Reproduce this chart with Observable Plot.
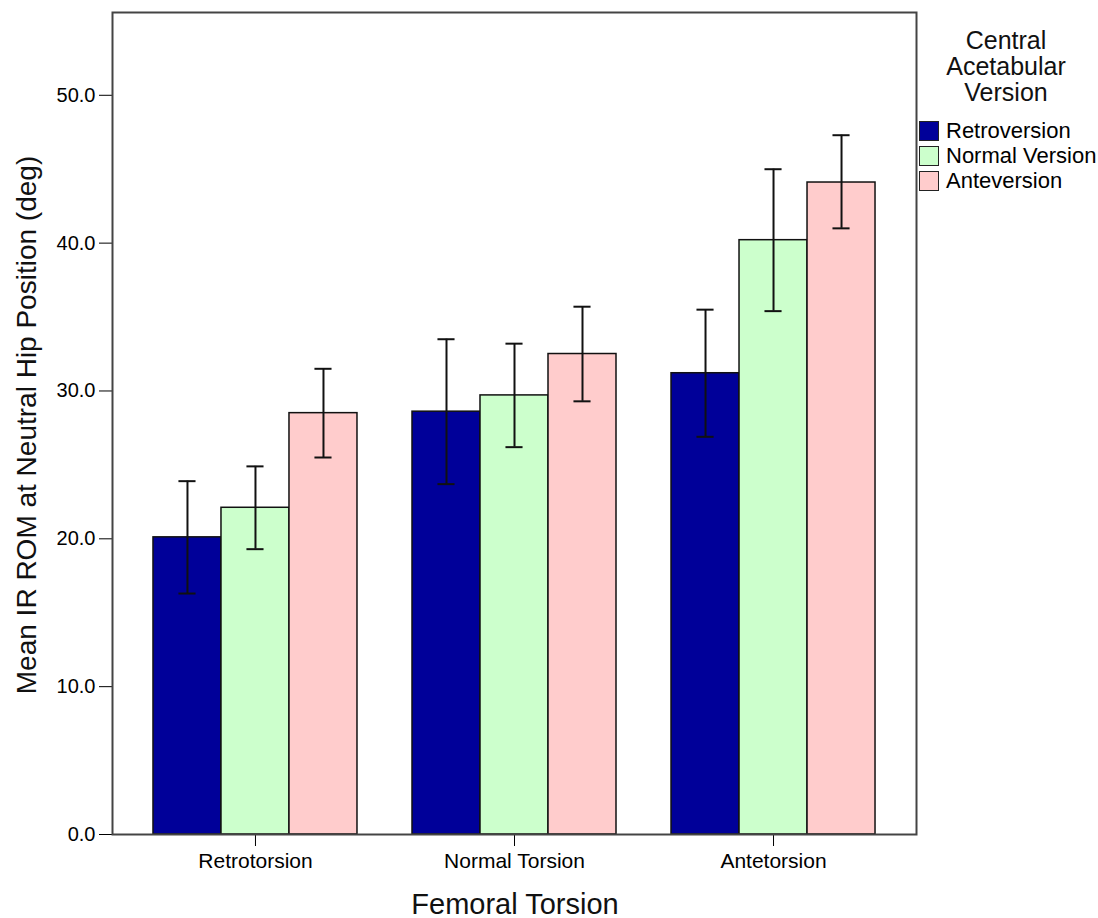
<!DOCTYPE html>
<html>
<head>
<meta charset="utf-8">
<script src="https://cdn.jsdelivr.net/npm/d3@7"></script>
<script src="https://cdn.jsdelivr.net/npm/@observablehq/plot@0.6"></script>
<style>
  body { margin: 0; background: #fff; font-family: "Liberation Sans", Arial, sans-serif; }
  #wrap { position: relative; width: 1098px; height: 918px; overflow: hidden; }
  #wrap svg { position: absolute; left: 0; top: 0; }
  g[aria-label^="y-axis"] text { font-size: 20px; fill: #000; }
  g[aria-label^="x-axis"] text { font-size: 21px; fill: #000; }
  .ytitle { position: absolute; left: 27px; top: 425px; transform: translate(-50%, -50%) rotate(-90deg);
            white-space: nowrap; font-size: 28px; color: #111; }
  .xtitle { position: absolute; left: 515px; top: 904px; transform: translate(-50%, -50%);
            white-space: nowrap; font-size: 29px; color: #111; }
  #legend { position: absolute; left: 916px; top: 27px; width: 182px; }
  #legend .ltitle { text-align: center; font-size: 25px; line-height: 26px; color: #111; width: 180px; margin-left: 0; }
  #legend .item { display: flex; align-items: center; height: 25px; margin-left: 3px; }
  #legend .sw { width: 18px; height: 18px; border: 1px solid #222; margin-right: 7px; }
  #legend .lab { font-size: 22px; color: #000; white-space: nowrap; }
</style>
</head>
<body>
<div id="wrap"></div>
<script>
// ---- data ----
const groups = ["Retrotorsion", "Normal Torsion", "Antetorsion"];
const versions = ["Retroversion", "Normal Version", "Anteversion"];
const colors = ["#000099", "#ccffcc", "#ffcccc"];

const retroversionMean = [20.1, 28.6, 31.2];
const retroversionLow  = [16.3, 23.7, 26.9];
const retroversionHigh = [23.9, 33.5, 35.5];

const normalVersionMean = [22.1, 29.7, 40.2];
const normalVersionLow  = [19.3, 26.2, 35.4];
const normalVersionHigh = [24.9, 33.2, 45.0];

const anteversionMean = [28.5, 32.5, 44.1];
const anteversionLow  = [25.5, 29.3, 41.0];
const anteversionHigh = [31.5, 35.7, 47.3];

const yTicks = [0, 10, 20, 30, 40, 50];

// ---- table built from the arrays ----
const means = [retroversionMean, normalVersionMean, anteversionMean];
const lows = [retroversionLow, normalVersionLow, anteversionLow];
const highs = [retroversionHigh, normalVersionHigh, anteversionHigh];

const groupPad = 0.2124;                 // gap between groups (fraction of step)
const bw = (1 - groupPad) / versions.length; // bar width in group units
const cap = 0.033;                        // half width of error caps

const rows = [];
groups.forEach((g, i) => {
  versions.forEach((v, j) => {
    const x1 = i + (j - versions.length / 2) * bw;
    rows.push({
      group: g, version: v,
      x1, x2: x1 + bw, xc: x1 + bw / 2,
      mean: means[j][i], low: lows[j][i], high: highs[j][i]
    });
  });
});

const chart = Plot.plot({
  width: 1098,
  height: 918,
  marginLeft: 112,
  marginRight: 182,
  marginTop: 12,
  marginBottom: 84,
  style: { fontFamily: '"Liberation Sans", Arial, sans-serif', background: "transparent", color: "#000" },
  x: {
    domain: [-0.552, 2.552],
    ticks: [0, 1, 2],
    tickFormat: i => groups[i],
    tickSize: 12,
    tickPadding: 7,
    label: null
  },
  y: {
    domain: [0, 55.6],
    ticks: yTicks,
    tickFormat: d3.format(".1f"),
    tickSize: 13,
    tickPadding: 4,
    label: null
  },
  color: { domain: versions, range: colors },
  marks: [
    Plot.rectY(rows, { x1: "x1", x2: "x2", y1: 0, y2: "mean", fill: "version", stroke: "#111", strokeWidth: 1.5 }),
    Plot.ruleX(rows, { x: "xc", y1: "low", y2: "high", stroke: "#111", strokeWidth: 2 }),
    Plot.ruleY(rows, { y: "high", x1: d => d.xc - cap, x2: d => d.xc + cap, stroke: "#111", strokeWidth: 2 }),
    Plot.ruleY(rows, { y: "low", x1: d => d.xc - cap, x2: d => d.xc + cap, stroke: "#111", strokeWidth: 2 }),
    Plot.frame({ stroke: "#444", strokeWidth: 2 })
  ]
});

const wrap = document.getElementById("wrap");
wrap.appendChild(chart);

const yt = document.createElement("div");
yt.className = "ytitle";
yt.textContent = "Mean IR ROM at Neutral Hip Position (deg)";
wrap.appendChild(yt);

const xt = document.createElement("div");
xt.className = "xtitle";
xt.textContent = "Femoral Torsion";
wrap.appendChild(xt);

const legend = document.createElement("div");
legend.id = "legend";
const lt = document.createElement("div");
lt.className = "ltitle";
lt.innerHTML = "Central<br>Acetabular<br>Version";
legend.appendChild(lt);
const items = document.createElement("div");
items.style.marginTop = "13px";
versions.forEach((v, j) => {
  const it = document.createElement("div");
  it.className = "item";
  const sw = document.createElement("div");
  sw.className = "sw";
  sw.style.background = colors[j];
  const lab = document.createElement("span");
  lab.className = "lab";
  lab.textContent = v;
  it.appendChild(sw);
  it.appendChild(lab);
  items.appendChild(it);
});
legend.appendChild(items);
wrap.appendChild(legend);
</script>
</body>
</html>
